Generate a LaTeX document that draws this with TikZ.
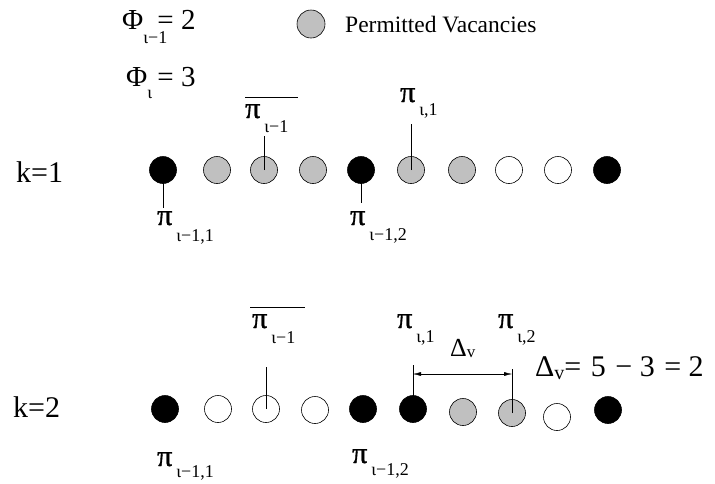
\documentclass[tikz,border=0pt]{standalone}
\usepackage{fontspec}
\setmainfont{Liberation Serif}
\newfontfamily\pifont[FakeBold=1.2]{Liberation Serif}
\usetikzlibrary{arrows.meta}
\definecolor{vacgray}{RGB}{192,192,192}

\newcommand{\bigsize}{\fontsize{30}{32}\selectfont}
\newcommand{\subsize}{\fontsize{18}{20}\selectfont}
\newcommand{\pilab}[2][14pt]{{\bigsize\pifont π}\hspace{4pt}\raisebox{-#1}{\subsize #2}}

\begin{document}
\begin{tikzpicture}[x=1pt,y=-1pt,
  slot/.style={circle, draw, line width=0.6pt, minimum size=27pt, inner sep=0pt},
  full/.style={slot, fill=black},
  perm/.style={slot, fill=vacgray},
  free/.style={slot, fill=white},
  lbl/.style={inner sep=0pt, anchor=base west}]

% Frame
\useasboundingbox (0,0) rectangle (715,483);

% Header
\node[lbl, font=\fontsize{29}{31}\selectfont] (phiold) at (122,29)
  {Φ\makebox[0pt][l]{\raisebox{-14pt}{\fontsize{18}{20}\selectfont ι−1}}\hspace{14pt}= 2};
\node[lbl, font=\fontsize{29}{31}\selectfont] (phinew) at (126,86)
  {Φ\makebox[0pt][l]{\raisebox{-12pt}{\fontsize{18}{20}\selectfont ι}}\hspace{10pt}= 3};

% Legend
\node[perm, minimum size=28pt] (key) at (311,24) {};
\node[lbl, font=\fontsize{23.5}{25}\selectfont] (keytext) at (345,32) {Permitted Vacancies};

% Row labels
\node[lbl, font=\fontsize{30}{32}\selectfont] (k1) at (16,182) {k=1};
\node[lbl, font=\fontsize{30}{32}\selectfont] (k2) at (13,417) {k=2};

% Slots, k=1
\foreach \x/\s [count=\i] in {163/full, 217/perm, 264/perm, 313/perm, 361/full,
                              411/perm, 462/perm, 509/free, 558/free, 607/full}{
  \node[\s] (a\i) at (\x,170) {};
}

% Slots, k=2
\foreach \x/\y/\s [count=\i] in {165/409/full, 218/409/free, 266/409/free, 315/410/free,
                                 363/409/full, 413/409/full, 463/412/perm, 512/413/perm,
                                 557/417/free, 608/410/full}{
  \node[\s] (b\i) at (\x,\y) {};
}

% Labels, k=1
\node[lbl] (abar) at (245,118) {\pilab{ι−1}};
\node[lbl] (a61) at (400,102) {\pilab[13pt]{ι,1}};
\node[lbl] (a11) at (157,225) {\pilab[16pt]{ι−1,1}};
\node[lbl] (a12) at (350,225) {\pilab[15pt]{ι−1,2}};
\draw (245,97) -- (298,97);

% Labels, k=2
\node[lbl] (bbar) at (252,328) {\pilab[15pt]{ι−1}};
\node[lbl] (b61) at (397,328) {\pilab{ι,1}};
\node[lbl] (b62) at (498,328) {\pilab{ι,2}};
\node[lbl] (b11) at (157,466) {\pilab[11pt]{ι−1,1}};
\node[lbl] (b12) at (352,463) {\pilab[12pt]{ι−1,2}};
\draw (250,307) -- (305,307);

% Pointers, k=1
\coordinate (a1e) at (163,208);
\coordinate (a3e) at (264,136);
\coordinate (a5e) at (361,203);
\coordinate (a6e) at (411,124);
\draw (a1.center) -- (a1e);
\draw (a3.center) -- (a3e);
\draw (a5.center) -- (a5e);
\draw (a6.center) -- (a6e);

% Pointers, k=2
\coordinate (b3e) at (266,367);
\coordinate (b6e) at (413,365);
\coordinate (b8e) at (512,369);
\draw (b3.center) -- (b3e);
\draw (b6.center) -- (b6e);
\draw (b8.center) -- (b8e);

% Gap
\coordinate (dl) at (413,374);
\coordinate (dr) at (512,374);
\draw[{Latex[length=8pt,width=4pt]}-{Latex[length=8pt,width=4pt]}] (dl) -- (dr);
\node[lbl, font=\fontsize{26}{28}\selectfont] (gap) at (450,356)
  {Δ\raisebox{-1pt}{\fontsize{17}{19}\selectfont v}};
\node[lbl, font=\fontsize{30}{32}\selectfont] (gapval) at (535,376)
  {Δ\raisebox{-3pt}{\fontsize{20}{22}\selectfont v}=\hspace{2pt} 5\hspace{2pt} − 3\hspace{2pt} = 2};

\end{tikzpicture}
\end{document}
